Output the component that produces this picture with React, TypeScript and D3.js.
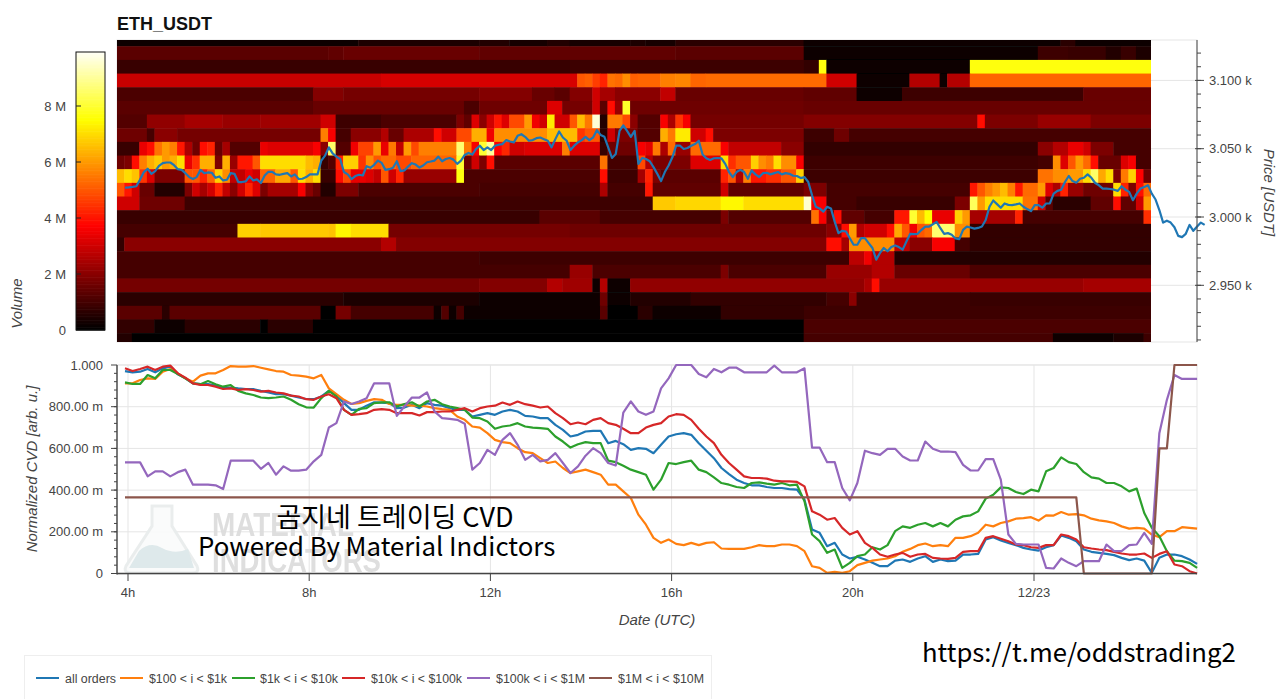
import * as d3 from "d3";

const W = 1280;
const H = 699;
const FONT = "'Liberation Sans', Arial, sans-serif";
const CJK = "'Noto Sans CJK KR', sans-serif";

// heatmap: [end column (exclusive), volume in M] runs, one list per 10 USD price bin
const v3130 = [[32,.25],[48,.45],[52,.5],[57,.35],[60,.5],[68,.3],[70,.4],[74,.3],[91,.6],[125,.15],[127,.6],[137,.15]];
const v3120 = [[28,1.3],[30,1.4],[48,1.5],[74,1.4],[91,1.3],[122,.1],[126,.9],[131,.8],[133,.5],[135,.8],[137,.4]];
const v3110 = [[60,.8],[91,.9],[93,.7],[94,7.6],[113,.1],[137,7.6]];
const v3100 = [[35,2.9],[61,3.1],[62,5],[63,5.1],[64,4.6],[65,4.2],[66,5.4],[67,5.3],[68,5.8],[69,5.1],[72,5.2],[74,5.6],[76,5.7],[78,5.2],[94,5.3],[98,3],[105,.1],[109,2.6],[110,.1],[113,2.6],[137,5.2]];
const v3090 = [[26,1.1],[30,1.9],[48,1.7],[55,1.9],[58,1.5],[60,1.3],[63,1.9],[64,3],[66,2.4],[72,2],[74,2.8],[91,1.5],[98,1.4],[104,.1],[128,.9],[137,1.5]];
const v3080 = [[26,1.3],[46,1.5],[48,1.1],[57,1.6],[59,3.2],[63,1.7],[64,3],[65,1.3],[66,3.8],[67,2.2],[68,7.9],[91,1.6],[137,1.5]];
const v3070 = [[4,1.2],[9,2.1],[14,2.4],[19,2.2],[27,2.3],[29,3],[35,.9],[45,1.1],[46,1.8],[47,1.4],[48,3.2],[49,2],[50,3],[51,4],[52,3.2],[54,4.8],[55,6],[56,3.5],[57,3],[58,7.2],[60,3],[61,5],[62,6.5],[63,5.5],[64,9.6],[65,.5],[67,5.5],[68,4.8],[69,2],[72,1.2],[73,3.6],[74,2.5],[75,4.5],[76,3.6],[91,1.7],[114,1.9],[115,3.8],[122,1.8],[129,2.2],[137,1.8]];
const v3060 = [[4,1.6],[5,1],[8,2],[27,1.7],[28,5.6],[29,3.6],[31,1],[35,2],[36,2.6],[38,1.5],[42,2.5],[43,3.8],[45,3],[47,4.8],[49,6.3],[50,3.5],[57,5.8],[61,6.5],[62,4.5],[64,5],[65,.6],[66,3],[69,1.8],[72,1.2],[73,6.3],[74,5.5],[76,7.2],[78,3],[79,3.8],[91,1.8],[95,.9],[97,1.6],[137,1]];
const v3050 = [[3,.8],[4,3.4],[5,3.8],[6,5.4],[7,6],[8,5.6],[9,4],[10,2.5],[11,1.6],[12,3.8],[13,4.2],[14,1.5],[15,2.4],[19,1.2],[20,3.4],[26,3.2],[27,3.6],[28,2],[29,8.5],[31,1.2],[32,3.5],[34,4.7],[35,6],[36,3.4],[37,5.5],[38,2.8],[39,6],[40,4.8],[45,5.6],[46,8.6],[47,5.5],[48,3.6],[49,8],[50,9],[51,3.7],[52,4.3],[54,3],[59,3.2],[60,5.6],[64,3.2],[65,.8],[69,1.6],[70,3.6],[71,3.3],[72,5.5],[73,2.5],[74,5.3],[76,2.2],[80,5.3],[81,3.6],[88,2.8],[91,2],[122,.7],[124,2],[126,2.6],[128,3.4],[129,3],[132,1.8],[137,1]];
const v3040 = [[1,1.6],[2,1.8],[3,3.8],[4,5.6],[5,6.3],[6,6.7],[7,6],[8,6.3],[9,7],[10,3.4],[11,4.4],[13,6.3],[14,1.8],[15,6.3],[16,2.2],[18,4],[19,5],[25,7],[26,6.5],[27,6.3],[28,.8],[29,1.2],[30,4.2],[32,6.8],[33,4.5],[34,5.8],[35,5],[37,5.3],[39,4.8],[45,5.2],[46,8],[47,1.6],[48,3],[49,1.8],[50,3.8],[64,1.3],[65,5.4],[69,1],[70,4.8],[71,2.6],[76,1.8],[80,3.2],[81,7],[82,4.4],[84,5],[85,6.8],[86,5.8],[87,5.5],[88,7],[90,5.8],[91,3.6],[122,.9],[124,1],[125,5.8],[126,3.2],[127,5],[128,6],[129,5.3],[130,3.8],[133,1.5],[134,3.2],[135,3.6],[137,1]];
const v3030 = [[1,6.5],[2,7],[3,6.6],[4,4.5],[5,3.2],[9,1.8],[10,5],[11,5],[12,4.2],[13,5.2],[14,6.8],[15,5.8],[17,2.8],[18,3.4],[19,3],[21,5.2],[23,6.2],[24,5],[25,7],[26,6.3],[27,7],[29,.8],[30,3.8],[31,4.8],[33,3.4],[34,3.2],[35,2.8],[36,5],[37,3],[38,4.3],[45,2.2],[46,7.6],[64,1.1],[65,3.8],[69,.9],[70,2.4],[71,4.2],[72,1.8],[80,1.3],[81,4.2],[82,5],[83,2.5],[84,5.6],[86,4],[88,4.4],[90,5],[91,6.8],[122,.9],[124,5.4],[126,5.8],[128,6],[129,7],[130,8.5],[131,6.2],[132,7],[133,1.8],[134,5.5],[135,6.8],[136,3.7],[137,1.6]];
const v3020 = [[1,5],[2,4],[3,3],[5,1.5],[9,.5],[10,1.8],[11,3],[12,2.4],[13,3],[14,4.2],[15,2.8],[16,2],[17,3],[18,4.2],[19,3.2],[20,1.8],[24,2.4],[25,3.6],[26,2],[27,1.5],[29,.5],[32,1.8],[48,1.1],[64,1],[65,2.5],[70,1],[71,4],[80,1.4],[81,3],[91,1.4],[94,1.8],[113,1],[114,4],[115,5],[116,5.6],[117,6],[118,6.5],[119,5.6],[120,4],[122,5.3],[123,6],[124,3.2],[125,2.5],[126,4.2],[128,2.2],[132,1.6],[133,7],[134,4.2],[135,1.8],[136,3.8],[137,5.3]];
const v3010 = [[3,3],[9,1.6],[71,.9],[74,6.7],[80,6.9],[83,7.4],[91,7],[92,9.5],[94,3.6],[98,1],[111,.8],[113,1.8],[114,8.4],[115,6],[120,7],[122,5.4],[123,3],[124,1.3],[129,.6],[132,1.4],[133,3.8],[135,1.4],[136,3],[137,6]];
const v3000 = [[56,.8],[64,1.3],[80,1],[81,1.8],[92,1.2],[93,5.4],[94,3.6],[95,1.6],[96,3.8],[99,1.4],[103,1],[105,4],[106,8],[107,6.5],[108,7.5],[111,3.4],[112,6.8],[113,6],[119,2.4],[120,4.2],[136,1],[137,4.4]];
const v2990 = [[16,1],[19,6.8],[28,6.7],[29,6.6],[31,7.4],[36,7],[60,1.7],[94,1.6],[96,2],[97,3.8],[98,6],[99,2.6],[102,3],[103,3.8],[104,6.2],[105,5],[106,3.5],[107,5],[108,5.3],[111,8.6],[113,5.8],[137,.7]];
const v2980 = [[1,.7],[35,2],[37,2.6],[94,1.9],[96,3.8],[97,2.4],[103,5.8],[105,2.8],[108,2],[111,3.6],[113,1],[137,.7]];
const v2970 = [[48,1],[97,.9],[99,2.7],[100,3.5],[103,2.6],[137,.5]];
const v2960 = [[60,1],[63,2.2],[80,1.1],[81,1.8],[94,1.1],[100,2.2],[103,2.6],[113,1.5],[137,1.1]];
const v2950 = [[48,1.7],[57,1.9],[59,2.6],[63,2.3],[64,.2],[65,2.6],[68,.1],[99,2.1],[100,2.5],[101,3.8],[128,2.2],[137,2.4]];
const v2940 = [[30,.6],[48,.4],[64,.15],[65,1.6],[68,.1],[76,.5],[94,.7],[97,1],[98,2],[113,.9],[137,.8]];
const v2930 = [[6,1.3],[7,.6],[27,1.3],[29,.05],[31,1.7],[42,1],[43,.1],[44,1.2],[45,.1],[46,1],[64,.1],[65,1.3],[69,.05],[71,.6],[80,.15],[91,.7],[137,.9]];
const v2920 = [[5,.7],[9,.1],[19,.6],[20,.05],[26,.6],[91,.05],[137,1.1]];
const v2910 = [[2,.5],[91,.05],[124,1],[132,.1],[136,.4],[137,.9]];

const heatPrices = [3130,3120,3110,3100,3090,3080,3070,3060,3050,3040,3030,3020,3010,3000,2990,2980,2970,2960,2950,2940,2930,2920,2910];
const heatRows = [v3130,v3120,v3110,v3100,v3090,v3080,v3070,v3060,v3050,v3040,v3030,v3020,v3010,v3000,v2990,v2980,v2970,v2960,v2950,v2940,v2930,v2920,v2910];

// price, sampled every 5 minutes from 3:56
const price = [
  3021.5,3021.7,3022,3022.5,3027.5,3032.9,3035.3,3031.6,3033.6,3037.4,3039.4,3039.9,3039.9,3037.9,3035,3034.5,3032.1,3029.2,3027.8,3029.2,
  3034.5,3032.1,3032.6,3032.4,3028.7,3029.7,3026.8,3027.3,3032.1,3031.6,3025.6,3025.6,3026.1,3029.7,3026.8,3027.5,3024.9,3030.4,3033.1,3033.1,
  3031.2,3030.9,3031.6,3032.1,3029.7,3031.2,3027.8,3028,3029.2,3031.2,3031.2,3031.2,3041.3,3044.9,3051,3046.6,3044.2,3042.5,3032.9,3031.2,
  3027.8,3030,3030.9,3030.4,3037.2,3036,3038.2,3041.3,3039.6,3034.5,3035,3036,3040.8,3033.6,3034.1,3037,3039.4,3038.4,3036.2,3037.7,
  3040.1,3040.6,3041.3,3044.2,3040.8,3042.5,3043.2,3042,3038.9,3041.3,3045.4,3046.9,3045.7,3049.8,3052.2,3049,3051,3049,3052.2,3052.9,
  3053.4,3056.3,3055.3,3054.6,3059.4,3060.6,3058.7,3055.8,3056.3,3057.7,3058.2,3057,3055.8,3051,3057,3062.6,3058.2,3055.8,3049,3052.2,
  3054.6,3056.3,3058.7,3056.3,3058.2,3063.5,3060.1,3058.7,3051,3043.2,3046.1,3063,3067.1,3063,3058.7,3063,3038.9,3043.2,3042.5,3040.8,
  3036.5,3031.6,3026.3,3032.9,3037.7,3043.7,3052.2,3052.2,3049.8,3050.5,3052.2,3053.4,3055.8,3045.7,3043,3041.8,3043,3043.2,3043,3038.9,
  3032.9,3029.2,3032.9,3034.5,3032.9,3028,3034.1,3031.2,3029.2,3032.1,3032.4,3031.2,3032.1,3032.9,3031.2,3032.1,3031.6,3030.2,3030,3028.5,
  3029.2,3025.6,3015.9,3007.5,3006.3,3003.9,3007.5,3006.3,2996.6,2988.2,2989.9,2989.4,2984.5,2979.7,2979.7,2984.5,2984.5,2980.9,2977.3,2968.8,
  2973.7,2977.3,2974.9,2978,2979.2,2978,2976.1,2982.1,2987.7,2987.4,2987.7,2990.6,2993,2993,2994.7,2996.4,2991.8,2987.7,2988.2,2987,
  2984.3,2983.8,2990.6,2993,2992.3,2991.5,2992,2993,2997.8,3007.5,3012.1,3009.4,3006.8,3009.9,3008.9,3008.7,3009.2,3009.9,3007.5,3005.8,
  3004.3,3008.7,3008.7,3006.8,3009.9,3009.9,3017.1,3019.1,3020,3025.6,3030,3026.3,3025.1,3028,3028.7,3031.2,3028.7,3024.9,3023.2,3020.8,
  3020.8,3020.5,3020,3019.1,3022.5,3020,3018.4,3012.3,3017.1,3020.8,3022,3023.2,3017.1,3012.8,3005.1,2995.9,2997.3,2995.9,2992.5,2986.2,
  2985.3,2987.7,2994.2,2989.9,2993,2995.9,2994.2,
];

// normalized CVD in milli units, sampled every 10 minutes from 3:56
const cvdAll = [
  971,965,968,981,965,984,992,955,936,912,908,908,901,892,892,888,885,884,876,869,860,860,853,844,837,836,849,876,856,817,785,785,805,821,820,817,793,796,809,793,817,809,805,793,785,785,753,761,769,761,
  777,785,777,756,753,745,745,713,689,657,665,681,684,684,625,636,620,593,601,598,577,617,657,668,673,665,625,589,553,506,477,450,434,423,423,415,410,410,405,402,354,211,195,131,147,91,72,80,67,51,
  35,35,62,67,56,72,83,56,67,59,62,91,91,94,163,174,158,147,136,123,115,110,126,136,182,171,155,115,104,99,94,88,75,64,72,62,3,75,91,91,83,67,46,
];
const cvd100 = [
  912,912,928,936,933,968,981,960,936,920,949,960,960,976,995,992,992,995,987,979,971,968,952,949,944,936,952,888,860,833,813,817,828,836,833,813,809,809,805,805,801,793,788,785,753,737,705,700,673,641,
  630,625,601,582,577,553,530,537,506,482,490,498,486,474,426,426,394,362,282,234,171,147,163,142,136,147,136,147,150,120,118,118,118,126,136,131,131,139,139,131,107,35,27,3,8,3,11,40,51,62,
  67,72,83,104,118,136,144,131,136,131,171,171,179,195,234,226,242,250,263,266,270,254,279,278,295,282,285,279,263,255,250,242,226,215,219,215,187,174,203,203,222,219,215,
];
const cvd1k = [
  917,909,909,952,936,976,976,957,936,912,908,923,908,896,904,876,864,856,844,841,844,849,833,812,797,796,841,876,849,785,761,790,793,817,821,821,801,813,821,801,825,833,812,801,793,785,748,745,729,694,
  705,710,721,705,700,697,694,657,633,604,620,630,625,625,541,534,517,498,486,474,402,450,530,525,534,541,498,486,461,434,426,415,410,434,437,431,426,434,423,426,346,187,155,99,115,27,51,83,91,126,
  115,136,203,226,219,234,242,226,242,226,258,274,279,298,359,378,413,410,391,381,402,394,490,506,557,534,525,486,461,455,434,434,418,394,407,290,219,179,107,62,59,51,27,
];
const cvd10k = [
  984,971,981,992,976,992,997,960,939,912,904,904,896,885,888,880,884,880,872,876,868,864,853,849,836,833,849,860,841,785,761,764,769,785,788,785,769,769,769,758,774,774,777,777,785,793,777,793,801,805,
  820,809,825,812,805,796,801,769,745,716,724,716,737,745,721,713,694,673,673,700,713,721,753,764,761,737,694,657,625,569,530,498,466,458,458,455,445,442,442,439,418,298,282,258,266,219,187,203,147,123,
  91,80,91,99,80,91,94,75,72,70,75,104,107,107,171,179,167,155,139,136,126,123,136,136,187,179,163,126,120,115,112,104,96,91,91,96,75,94,107,43,35,11,0,
];
const cvd100k = [
  533,533,533,466,490,490,466,486,498,426,426,426,423,405,541,541,541,541,502,530,474,514,493,493,498,538,569,700,721,825,813,825,841,912,912,912,756,801,844,844,869,777,745,742,737,718,498,530,593,569,
  641,673,617,545,569,538,545,577,530,482,514,565,601,577,530,518,772,825,777,761,777,888,936,1000,1000,1000,957,941,981,965,987,987,965,965,965,965,997,965,965,965,984,604,604,534,534,410,351,434,589,577,
  569,598,598,561,542,542,633,598,585,585,582,521,494,494,549,549,450,187,142,139,139,139,27,24,72,51,35,59,59,59,139,107,107,136,139,195,142,673,833,952,933,933,933,
];
const cvd1M = [
  365,365,365,365,365,365,365,365,365,365,365,365,365,365,365,365,365,365,365,365,365,365,365,365,365,365,365,365,365,365,365,365,365,365,365,365,365,365,365,365,365,365,365,365,365,365,365,365,365,365,
  365,365,365,365,365,365,365,365,365,365,365,365,365,365,365,365,365,365,365,365,365,365,365,365,365,365,365,365,365,365,365,365,365,365,365,365,365,365,365,365,365,365,365,365,365,365,365,365,365,365,
  365,365,365,365,365,365,365,365,365,365,365,365,365,365,365,365,365,365,365,365,365,365,365,365,365,365,365,0,0,0,0,0,0,0,0,0,0,600,600,1000,1000,1000,1000,
];

const seriesNames = ["all orders", "$100 < i < $1k", "$1k < i < $10k", "$10k < i < $100k", "$100k < i < $1M", "$1M < i < $10M"];
const seriesValues = [cvdAll, cvd100, cvd1k, cvd10k, cvd100k, cvd1M];
const seriesColors = ["#1f77b4", "#ff7f0e", "#2ca02c", "#d62728", "#9467bd", "#8c564b"];

const priceTicks = [3100, 3050, 3000, 2950];
const priceMinor = d3.range(2910, 3130, 10);
const volumeTicks = [0, 2, 4, 6, 8];
const hourTicks = [4, 8, 12, 16, 20, 24];
const hourLabels = ["4h", "8h", "12h", "16h", "20h", "12/23"];
const cvdTicks = [0, 200, 400, 600, 800, 1000];
const cvdTickLabels = ["0", "200.00 m", "400.00 m", "600.00 m", "800.00 m", "1.000"];
const cvdMinor = d3.range(0, 1000, 40);

const PLOT = { left: 117, right: 1197, heatRight: 1151.1, top1: 40, bottom1: 342, top2: 365, bottom2: 574 };

const x = d3.scaleLinear().domain([4, 8]).range([128, 309.2]);
const yPrice = d3.scaleLinear().domain([3000, 3050]).range([217, 148.7]);
const yCvd = d3.scaleLinear().domain([0, 1000]).range([PLOT.bottom2 - 0.5, PLOT.top2]);
const yVolume = d3.scaleLinear().domain([0, 8]).range([330, 106]);
const heat = d3
  .scaleLinear<string>()
  .domain([0, 3.7, 7.5, 10])
  .range(["#000000", "#ff0000", "#ffff00", "#ffffff"]);

const START = 4 - 3 / 45.3; // first sample of the line series
const COL_START = 3.75;

const lineFrom = (stepHours: number, scaleY: (v: number) => number) =>
  d3
    .line<number>()
    .x((_, i) => x(START + i * stepHours))
    .y((v) => scaleY(v));

const cells = heatRows.flatMap((runs, r) => {
  let from = 0;
  return runs.map(([end, volume]) => {
    const cell = { price: heatPrices[r], from, end, volume };
    from = end;
    return cell;
  });
});

const legendLineX = [36, 120, 232, 342, 467, 589];
const legendTextX = [65, 149, 260, 371, 496, 618];
const legendTextW = [51, 78, 78, 91, 89, 86];
const AXIS = "#444444";

export default function App() {
  return (
    <svg
      width={W}
      height={H}
      viewBox={`0 0 ${W} ${H}`}
      style={{ position: "absolute", left: 0, top: 0, display: "block", background: "#fff" }}
      fontFamily={FONT}
    >
      <defs>
        <clipPath id="heat-clip">
          <rect x={PLOT.left} y={PLOT.top1} width={PLOT.heatRight - PLOT.left} height={PLOT.bottom1 - PLOT.top1} />
        </clipPath>
        <filter id="soft" x="-2%" y="-2%" width="104%" height="104%">
          <feGaussianBlur stdDeviation="0.6" />
        </filter>
      </defs>

      <text x={117} y={29.5} fontSize={18} fontWeight="bold" fill="#111">ETH_USDT</text>

      {/* colour bar */}
      {d3.range(0, 200).map((i) => {
        const v = (i / 200) * 9.93;
        const step = 9.93 / 200;
        return (
          <rect
            key={i}
            x={76}
            width={29}
            y={yVolume(v + step)}
            height={yVolume(v) - yVolume(v + step) + 0.6}
            fill={heat(v)}
          />
        );
      })}
      <rect x={76} y={52} width={29} height={278} fill="none" stroke="#111" strokeWidth={1} />
      {volumeTicks.map((t) => (
        <g key={t}>
          {t > 0 && <line x1={76} x2={81} y1={yVolume(t)} y2={yVolume(t)} stroke="#222" />}
          <text x={66} y={yVolume(t) + 4.5} textAnchor="end" fontSize={13} fill={AXIS}>
            {t === 0 ? "0" : `${t} M`}
          </text>
        </g>
      ))}
      <text transform="translate(22,303.5) rotate(-90)" textAnchor="middle" fontSize={15} fontStyle="italic" fill={AXIS}>Volume</text>

      {/* top panel */}
      <rect x={PLOT.left} y={PLOT.top1} width={PLOT.right - PLOT.left} height={PLOT.bottom1 - PLOT.top1} fill="none" stroke="#e5e5e5" />
      {priceTicks.map((t) => (
        <line key={t} x1={PLOT.left} x2={PLOT.right} y1={yPrice(t)} y2={yPrice(t)} stroke="#e5e5e5" />
      ))}
      <g clipPath="url(#heat-clip)">
        <g filter="url(#soft)">
          {cells.map((c, i) => (
            <rect
              key={i}
              x={x(COL_START + c.from / 6)}
              width={x(COL_START + c.end / 6) - x(COL_START + c.from / 6) + 0.5}
              y={yPrice(c.price + 5)}
              height={yPrice(c.price - 5) - yPrice(c.price + 5) + 0.5}
              fill={heat(c.volume)}
            />
          ))}
        </g>
      </g>
      <path
        d={lineFrom(5 / 60, yPrice)(price) ?? ""}
        fill="none"
        stroke="#1f77b4"
        strokeWidth={2.2}
        strokeLinejoin="round"
      />
      <line x1={PLOT.right} x2={PLOT.right} y1={PLOT.top1} y2={PLOT.bottom1} stroke={AXIS} strokeWidth={1} />
      {priceMinor.map((t) => (
        <line key={t} x1={PLOT.right} x2={PLOT.right + 4} y1={yPrice(t)} y2={yPrice(t)} stroke={AXIS} />
      ))}
      {priceTicks.map((t) => (
        <g key={t}>
          <line x1={PLOT.right - 2} x2={PLOT.right + 7} y1={yPrice(t)} y2={yPrice(t)} stroke={AXIS} />
          <text x={1209} y={yPrice(t) + 4.5} fontSize={13} fill={AXIS}>
            {(t / 1000).toFixed(3)} k
          </text>
        </g>
      ))}
      <text transform="translate(1264,192.5) rotate(90)" textAnchor="middle" fontSize={15} fontStyle="italic" fill={AXIS}>Price [USDT]</text>

      {/* bottom panel */}
      <rect x={PLOT.left} y={PLOT.top2} width={PLOT.right - PLOT.left} height={PLOT.bottom2 - PLOT.top2} fill="none" stroke="#e5e5e5" />
      {hourTicks.map((t) => (
        <line key={t} x1={x(t)} x2={x(t)} y1={PLOT.top2} y2={PLOT.bottom2} stroke="#e5e5e5" />
      ))}
      {cvdTicks.map((t) => (
        <line key={t} x1={PLOT.left} x2={PLOT.right} y1={yCvd(t)} y2={yCvd(t)} stroke="#e5e5e5" />
      ))}

      {/* watermark */}
      <g opacity={0.95}>
        <path
          d="M152 506 H172 V526 L197 566 Q200 573 192 573 H131 Q123 573 126 566 L152 526 Z"
          fill="#fafbfb"
          stroke="#e9eded"
          strokeWidth={3}
        />
        <path d="M139 551 Q150 541 162 548 Q175 555 188 549 L194 568 H129 Z" fill="#dde8ea" />
        <text x={212} y={536} fontSize={34} fontWeight="bold" fill="#dddddd" textLength={142} lengthAdjust="spacingAndGlyphs">MATERIAL</text>
        <text x={212} y={572} fontSize={34} fontWeight="bold" fill="#dddddd" textLength={169} lengthAdjust="spacingAndGlyphs">INDICATORS</text>
      </g>

      {seriesValues.map((values, i) => (
        <path
          key={seriesNames[i]}
          d={lineFrom(10 / 60, yCvd)(values) ?? ""}
          fill="none"
          stroke={seriesColors[i]}
          strokeWidth={2.2}
          strokeLinejoin="round"
        />
      ))}

      {/* axes */}
      <line x1={PLOT.left} x2={PLOT.left} y1={PLOT.top2} y2={PLOT.bottom2 + 0.5} stroke={AXIS} strokeWidth={1.4} />
      <line x1={PLOT.left} x2={PLOT.right} y1={PLOT.bottom2 - 0.5} y2={PLOT.bottom2 - 0.5} stroke={AXIS} strokeWidth={1.4} />
      {cvdMinor.map((t) => (
        <line key={t} x1={PLOT.left - 3} x2={PLOT.left} y1={yCvd(t)} y2={yCvd(t)} stroke={AXIS} />
      ))}
      {cvdTicks.map((t, i) => (
        <g key={t}>
          <line x1={PLOT.left - 6} x2={PLOT.left} y1={yCvd(t)} y2={yCvd(t)} stroke={AXIS} />
          <text x={103} y={yCvd(t) + 4.5} textAnchor="end" fontSize={13} fill={AXIS}>{cvdTickLabels[i]}</text>
        </g>
      ))}
      {hourTicks.map((t, i) => (
        <g key={t}>
          <line x1={x(t)} x2={x(t)} y1={PLOT.bottom2 - 1} y2={PLOT.bottom2 + 7} stroke={AXIS} />
          <text x={x(t)} y={597} textAnchor="middle" fontSize={13} fill={AXIS}>{hourLabels[i]}</text>
        </g>
      ))}
      <text transform="translate(37,469) rotate(-90)" textAnchor="middle" fontSize={15} fontStyle="italic" fill={AXIS}>Normalized CVD [arb. u.]</text>
      <text x={657} y={625} textAnchor="middle" fontSize={15} fontStyle="italic" fill={AXIS}>Date (UTC)</text>

      {/* overlaid captions */}
      <text x={395} y={527} textAnchor="middle" fontSize={27} fontFamily={CJK} fill="#000">곰지네 트레이딩 CVD</text>
      <text x={198} y={556} fontSize={25.8} fontFamily={CJK} fill="#000">Powered By Material Indictors</text>
      <text x={922} y={662} fontSize={25.7} fontFamily={CJK} fill="#000">https://t.me/oddstrading2</text>

      {/* legend */}
      <rect x={24.5} y={655.5} width={687} height={50} fill="#fff" stroke="#eeeeee" />
      {seriesNames.map((name, i) => (
        <g key={name}>
          <line x1={legendLineX[i]} x2={legendLineX[i] + 23} y1={678} y2={678} stroke={seriesColors[i]} strokeWidth={2} />
          <text x={legendTextX[i]} y={683} fontSize={12} fill={AXIS} textLength={legendTextW[i]} lengthAdjust="spacingAndGlyphs">{name}</text>
        </g>
      ))}
    </svg>
  );
}
